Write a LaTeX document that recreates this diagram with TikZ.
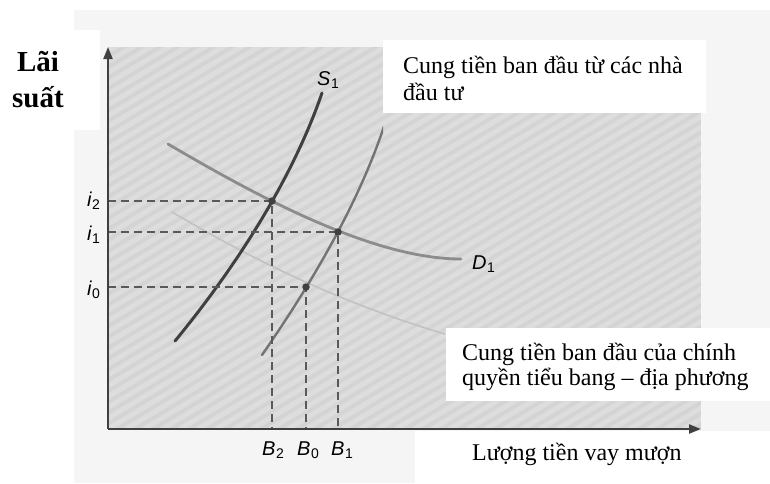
\documentclass[tikz,border=0pt]{standalone}
\usepackage{fontspec}
\setmainfont{Liberation Serif}
\newfontfamily\lsans{Liberation Sans}
\usetikzlibrary{arrows.meta}
\newcommand{\glab}[2]{{\lsans\fontsize{20}{20}\selectfont\itshape #1\kern0.5pt\raisebox{-3.5pt}{\fontsize{14}{14}\selectfont\upshape #2}}}
\tikzset{
  axisline/.style={line width=2.2pt, draw=black!75, -{Triangle[length=12pt,width=9pt]}},
  dashline/.style={line width=1.3pt, draw=black!65, dash pattern=on 8pt off 5pt},
  sone/.style={line width=3pt, draw=black!75, line cap=round},
  szero/.style={line width=2.4pt, draw=black!55, line cap=round},
  dcurve/.style={line width=2.8pt, draw=black!45, line cap=round},
  ghost/.style={line width=1.6pt, draw=black!24},
  eqdot/.style={circle, fill=black!75, inner sep=0pt, minimum size=7.5pt},
  txt/.style={font=\fontsize{24}{27}\selectfont, align=left, inner sep=0pt},
  glabel/.style={inner sep=0pt},
  whitebox/.style={fill=white}
}
\begin{document}
\begin{tikzpicture}[x=1pt,y=-1pt]
\useasboundingbox (0,0) rectangle (770,483);
\fill[white] (0,0) rectangle (770,483);
% faint scanned page
\fill[black!4] (74,10) rectangle (770,483);
\fill[whitebox] (0,30) rectangle (100,130);
% shaded plot area
\fill[black!17] (108,47) rectangle (701,429);
\begin{scope}
  \clip (108,47) rectangle (701,429);
  \foreach \k in {-40,...,40} {
    \draw[white, opacity=0.22, line width=5pt] (108+\k*18,429) -- ++(700,-420);
  }
\end{scope}
% white text boxes
\fill[whitebox] (383,40) rectangle (706,113);
\fill[whitebox] (446,328) rectangle (770,401);
\fill[whitebox] (415,431) rectangle (770,483);
% coordinates
\coordinate (O) at (108,429);
\coordinate (Ytop) at (108,47);
\coordinate (Xend) at (701,429);
\coordinate (E2) at (272,201);
\coordinate (E1) at (338,232);
\coordinate (E0) at (306,287);
% ghost old demand curve
\draw[ghost] (172,212) .. controls (240,252) and (330,300) .. (445,334);
% curves
\begin{scope}
\clip (108,47) rectangle (383,430);
\draw[szero] (262,355) .. controls (300,300) and (365,200) .. (392,100);
\end{scope}
\draw[sone] (175,341) .. controls (235,268) and (292,180) .. (322,93);
\draw[dcurve] (168,144) .. controls (250,192) and (370,259) .. (461,259);
% dashed guides
\draw[dashline] (E2 -| O) -- (E2) -- (E2 |- O);
\draw[dashline] (E1 -| O) -- (E1) -- (E1 |- O);
\draw[dashline] (E0 -| O) -- (E0) -- (E0 |- O);
% axes
\draw[axisline] (O) -- (Ytop);
\draw[axisline] (O) -- (Xend);
% dots
\node[eqdot] (d2) at (E2) {};
\node[eqdot] (d1) at (E1) {};
\node[eqdot] (d0) at (E0) {};
% labels
\node[glabel, anchor=base east] (li2) at (100,206) {\glab{i}{2}};
\node[glabel, anchor=base east] (li1) at (100,240) {\glab{i}{1}};
\node[glabel, anchor=base east] (li0) at (100,295) {\glab{i}{0}};
\node[glabel, anchor=base west] (lb2) at (262,455) {\glab{B}{2}};
\node[glabel, anchor=base west] (lb0) at (297,455) {\glab{B}{0}};
\node[glabel, anchor=base west] (lb1) at (331,455) {\glab{B}{1}};
\node[glabel, anchor=base west] (ls1) at (317,85) {\glab{S}{1}};
\node[glabel, anchor=base west] (ld1) at (472,269) {\glab{D}{1}};
% texts
\node[font=\bfseries\fontsize{29}{36}\selectfont, align=center, inner sep=0pt, anchor=base] (ylab) at (38,107) {Lãi\\suất};
\node[txt, anchor=base west] (t1) at (403,100) {Cung tiền ban đầu từ các nhà\\đầu tư};
\node[txt, anchor=base west, font=\fontsize{24}{25}\selectfont] (t2) at (462,385) {Cung tiền ban đầu của chính\\quyền tiểu bang – địa phương};
\node[txt, anchor=base west] (t3) at (472,460) {Lượng tiền vay mượn};
\end{tikzpicture}
\end{document}
